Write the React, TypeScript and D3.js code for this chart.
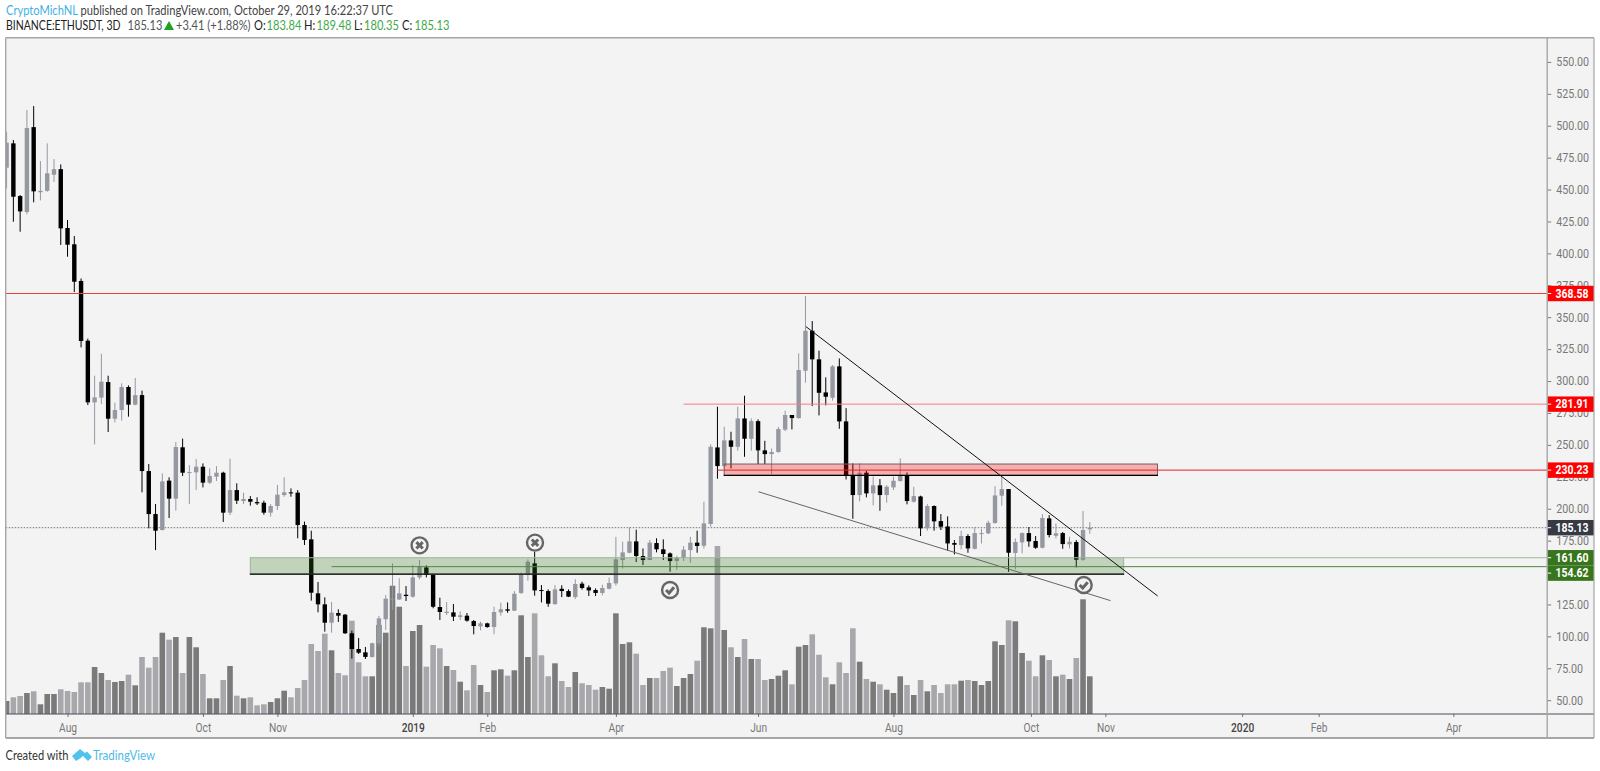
import { useEffect, useRef } from 'react'
import * as d3 from 'd3'

// ETHUSDT 3D candles
const opens = [
  467.1,486.2,444.9,432.4,498.9,447.9,449,461.6,466,419.9,
  407.1,378.4,331.6,283.3,287,299.2,270.5,277.3,295.3,281.5,
  289,229.5,195.8,183.3,222,207.9,248.1,227.9,228.5,232.9,
  220.4,225.1,228.2,196.9,214.6,206,207.6,205.2,204.7,196.9,
  202.1,210.7,212.8,212.6,187.2,176,133.7,125.1,110.7,118.3,
  117,102.4,90.1,87.5,83.9,94.6,113.4,129,128.9,132.6,
  131.1,146.2,154,148.3,123,118.3,118.8,115.2,116.2,112,
  107.8,110.2,107.3,118.8,121.2,120.1,134,148.3,157.2,136.3,
  135.5,125.3,137.3,135.5,130.8,141.3,138.4,136.3,134,137.3,
  141.5,159.8,165.5,174.4,162.9,159.8,173.1,168.2,165,159,
  161.4,167.6,173.4,171,188,248,233.4,253.5,248.5,270.7,
  254.8,268.6,245.7,242.8,244.4,261.9,273.4,271,308.1,339.4,
  317,291.1,286.9,311.5,268.4,225.6,210.7,228.2,212,218.3,
  210.7,216.7,221.7,225.8,205.5,209.6,184.6,202.1,190.3,186.1,
  173.1,171.5,178.6,168.6,180.4,180.7,188.8,210.2,215.4,165.3,
  173.6,180.9,174.7,169.4,192.4,178.8,180.9,172.1,173.9,160,
  183.84,
]
const highs = [
  495.3,488.8,445.7,512.3,515.4,472.3,486.2,473.9,469.7,426.1,
  413.6,380.4,333.2,304.2,321.4,304.2,283,298.2,296.6,302.4,
  292.5,235,203.7,227.7,224.6,252.2,254.9,234.2,238.9,235.5,
  231.6,233.4,229,239.2,219.9,212.6,209.9,208.9,206.3,203.7,
  218.6,224.6,215.9,214.6,189.9,182.8,142.6,130.6,126.9,121.2,
  117.5,104.5,98.7,91.7,95.1,116,132.4,157.2,145.5,139.4,
  155.9,159.8,155.6,148.8,130.3,126.9,125.3,119.6,118.3,112.8,
  111.5,110.7,123.2,126.4,126.6,135.5,149.9,160.3,166.3,140.2,
  136.8,140.2,140,136.8,144.7,142.8,140,137.6,140.5,146,
  178,174.2,185.4,183.6,168.9,175.5,176.8,176,165.8,163.2,
  170.8,178,182.8,205.5,250.4,279.9,264.2,260.3,279.9,288.5,
  270.7,270,253.2,247.2,264.2,276.8,273.4,321.7,366.6,347,
  323.8,302.9,312.5,317.7,278.8,235.5,235.5,229.8,225.1,223.2,
  218.5,225.1,239.4,228.4,217.2,210.2,203.6,202.6,195.8,194,
  175.4,182.8,180.1,185.4,184.3,190.6,217.7,225,215.4,176.7,
  181.4,185.6,178.6,195.8,195,188.5,181.7,178,175.4,198.2,
  189.48,
]
const lows = [
  450.9,424.8,417,430.6,440,441.5,448.3,455.9,406.6,397.4,
  369.7,326.4,281.2,250.4,282,260.1,267.6,269,272.1,281,
  212.8,184.6,167.6,183,192.7,198.5,225.6,203.7,214.6,216.7,
  219.3,221.7,189.6,195,203.7,203.7,202.4,202.9,195.3,193.8,
  199,209.4,209.4,176.8,171.6,128,118.8,103.7,102.9,111.3,
  101.9,82.6,86.2,82.3,83.3,92,105,120.6,128.5,127.7,
  130.3,144.7,146.2,122,112.8,116.7,112,112.8,111.5,101.6,
  104.7,106.8,101.6,116.2,118.5,119.8,133.2,143.6,131.9,126.6,
  123.2,124.6,130.8,130.8,129.2,136.6,131.6,131.6,132.1,136.8,
  139.7,153,165,158.2,155.9,159.8,165.8,159.8,150.7,152,
  159,157.7,165.5,168.7,185.9,223.5,231.6,231.6,245.4,240.7,
  245.4,235,235,227.1,243.9,260.8,262.1,270.5,298.7,280.4,
  273.1,280.9,284.6,262.6,222.9,192.1,205.7,208.9,202.6,198.4,
  204.7,214.6,221.1,203.4,204.7,178.6,182.8,182.8,183.3,167.1,
  164.2,168.1,165.5,168.1,172.8,180.1,188.2,202.3,150.6,152.5,
  165,170.2,168.6,168.9,177.5,176.7,168.6,168.9,154,159.2,
  180.35,
]
const closes = [
  486.7,444.4,432.9,498.2,448.6,449,462.7,466,419.6,406.8,
  377.8,331.4,283.3,287.2,299.5,270.5,277.3,295.3,281.5,289,
  229.5,195.8,182.8,221.4,207.9,248.3,228.2,228.7,232.9,220.4,
  225.6,228.2,196.9,214.6,206.3,207.6,205.5,204.2,196.9,202.1,
  211,212.8,212.3,187.2,175.5,134.2,125.1,110.7,118.6,116.2,
  102.4,90.1,87.2,83.9,94.6,114.1,129.5,129.6,133.7,131.6,
  146.2,154.6,148.1,123.2,119.1,119.3,115.4,116.5,112.3,108.1,
  110.2,107.3,119.1,121.2,120.1,133.4,148.8,158.5,136,135.5,
  125.6,136.8,135.5,131.1,141,137.9,136,134,137.9,141.8,
  160.3,165.8,174.4,162.9,159.8,173.4,168.2,164.5,159,161.6,
  167.9,173.4,170.8,188.5,248.5,233.4,253.5,248.5,270.7,254.8,
  268.6,245.7,242.8,244.4,262.4,273.4,271,308.6,339.4,317,
  290.8,287.7,311.5,268.4,226.1,210.7,228.2,212,218.3,210.7,
  217.2,221.9,225.8,206,209.9,184.6,202.1,190.1,185.9,172.8,
  171.8,178.6,168.9,180.9,180.9,189,210.4,215.4,165.5,173.9,
  180.9,174.4,169.4,192.7,179.4,180.7,172.3,174.1,160,183.3,
  185.13,
]
// volume in relative units (the scale has no labels in the picture)
const volumes = [
  13,16.7,18,21,22.7,9.7,20,20,24.7,23,
  22,31.7,31.7,47,41,34,32,33,39.3,28.7,
  57,46.3,57,81.3,74.3,77,41,77,66.7,40,
  15.7,15.7,34,48,18.3,15.7,16.7,8.7,9.7,12,
  15.7,23.3,16.7,26,34,70,63,80.3,63.7,41,
  38.7,93.3,51.7,37.7,37.7,89,81.3,128.3,107.3,48,
  83,89,47.3,69,65.7,48,44,32.3,23.7,49,
  29,22,43.7,44.7,38.3,43.7,98.7,57,100.7,58.7,
  37.7,50.7,33,27,42,30.7,29,24.3,27,25.3,
  100.7,70,71.7,60.3,29,36,36,43,46.3,28,
  36,40,53.3,86.7,85.7,168,84,66.7,57,75,
  55,55,34,35,38.3,43.7,29.7,67.3,69,79.7,
  59.3,36.7,29.7,51.7,41,85.7,52.3,35,32.3,29.7,
  24.3,21,37.7,29,19,34,22.7,29,21,29.7,
  29.7,33.3,34,33,29,33,72.7,69,93.7,92.7,
  61,53.3,37.7,58.7,54,37.7,39.3,35,56,114.7,
  37.7,
]

// 150.00 sits fully behind the green price tags in the picture, so it is left out
const priceTicks = [550,525,500,475,450,425,400,375,350,325,300,275,250,225,200,175,125,100,75,50]
const timeTickBars = [9,29,40,60,71,90,111,131,151.3,162.3,182.5,193.8,213.7]
const timeTickLabels = ['Aug','Oct','Nov','2019','Feb','Apr','Jun','Aug','Oct','Nov','2020','Feb','Apr']

const lastPrice = 185.13
const resistanceTop = 368.58
const resistanceMid = 281.91
const resistanceLow = 230.23
const supportTop = 161.6
const supportLow = 154.62

const redZone = { from: 106, to: 170, top: 235, bottom: 226.1 }
const greenZone = { from: 36, to: 165, top: 161.6, bottom: 148.7 }
const fallingLine = [[118.08, 342.6], [170.03, 131.6]]
const supportLine = [[111.05, 213.3], [163.06, 128]]
const crossBadges = [[61, 171.3], [78.05, 173.4]]
const checkBadges = [[98, 136.3], [159.1, 140.2]]

const priceTags = [
  { value: resistanceTop, fill: '#ff0000' },
  { value: resistanceMid, fill: '#ff0000' },
  { value: resistanceLow, fill: '#ff0000' },
  { value: lastPrice, fill: '#363a45' },
  { value: supportTop, fill: '#38761d' },
  { value: supportLow, fill: '#38761d' },
]

const headerLine2 = [
  { x: 127.5, text: '185.13', fill: '#555' },
  { x: 176, text: '+3.41 (+1.88%)', fill: '#555' },
  { x: 254, text: 'O:', fill: '#222' },
  { x: 266.5, text: '183.84', fill: '#3fa84a' },
  { x: 304, text: 'H:', fill: '#222' },
  { x: 316.5, text: '189.48', fill: '#3fa84a' },
  { x: 354, text: 'L:', fill: '#222' },
  { x: 364, text: '180.35', fill: '#3fa84a' },
  { x: 402, text: 'C:', fill: '#222' },
  { x: 414.5, text: '185.13', fill: '#3fa84a' },
]

const textFont = 'Lato, "Open Sans", sans-serif'
const axisFont = 'Roboto, sans-serif'

// The original text is narrower than any installed font, so condense it a bit
function squeeze(sel: any, ratio: number) {
  sel.each(function (this: SVGTextElement) {
    d3.select(this)
      .attr('textLength', this.getComputedTextLength() * ratio)
      .attr('lengthAdjust', 'spacingAndGlyphs')
  })
}

export default function App() {
  const svgRef = useRef<SVGSVGElement>(null)

  useEffect(() => {
    if (!svgRef.current) return
    const svg = d3.select(svgRef.current)
    svg.selectAll('*').remove()

    const paneLeft = 5.7
    const paneTop = 37.7
    const axisX = 1547.2
    const paneRight = 1594
    const timeY = 714
    const paneBottom = 738

    const x = d3.scaleLinear().domain([0, 160]).range([6.6, 1089.8])
    const y = d3.scaleLinear().domain([50, 550]).range([700.2, 61.9])
    const v = d3.scaleLinear().domain([0, 168]).range([timeY, 546])

    svg.append('rect').attr('width', 1600).attr('height', 771).attr('fill', '#fff')
    svg.append('rect')
      .attr('x', paneLeft).attr('y', paneTop)
      .attr('width', paneRight - paneLeft).attr('height', paneBottom - paneTop)
      .attr('fill', '#f3f3f3')

    svg.append('clipPath').attr('id', 'pane')
      .append('rect')
      .attr('x', paneLeft).attr('y', paneTop)
      .attr('width', axisX - paneLeft).attr('height', timeY - paneTop)
    const pane = svg.append('g').attr('clip-path', 'url(#pane)')

    const bars = d3.range(closes.length)
    const isUp = (i: number) => closes[i] >= opens[i]

    // Volume colours run opposite to the candles on this chart
    pane.selectAll('.vol')
      .data(bars)
      .enter().append('rect')
      .attr('class', 'vol')
      .attr('x', i => x(i) - 2.8)
      .attr('y', i => v(volumes[i]))
      .attr('width', 5.6)
      .attr('height', i => timeY - v(volumes[i]))
      .attr('fill', i => isUp(i) ? '#7a7a7a' : '#a7a7ac')

    // Last price line
    pane.append('line')
      .attr('x1', paneLeft).attr('x2', axisX)
      .attr('y1', y(lastPrice)).attr('y2', y(lastPrice))
      .attr('stroke', '#777').attr('stroke-dasharray', '1.5 1.5')

    pane.selectAll('.wick')
      .data(bars)
      .enter().append('line')
      .attr('class', 'wick')
      .attr('x1', i => x(i)).attr('x2', i => x(i))
      .attr('y1', i => y(highs[i])).attr('y2', i => y(lows[i]))
      .attr('stroke', i => isUp(i) ? '#9598a1' : '#000')
      .attr('stroke-width', 1)

    pane.selectAll('.body')
      .data(bars)
      .enter().append('rect')
      .attr('class', 'body')
      .attr('x', i => x(i) - 2.2)
      .attr('y', i => y(Math.max(opens[i], closes[i])))
      .attr('width', 4.4)
      .attr('height', i => Math.max(1, Math.abs(y(opens[i]) - y(closes[i]))))
      .attr('fill', i => isUp(i) ? '#9598a1' : '#000')

    // Zones
    const greenG = pane.append('g')
    greenG.append('rect')
      .attr('x', x(greenZone.from)).attr('y', y(greenZone.top))
      .attr('width', x(greenZone.to) - x(greenZone.from))
      .attr('height', y(greenZone.bottom) - y(greenZone.top))
      .attr('fill', 'rgba(56,118,29,0.26)')
      .attr('stroke', '#9fb39a').attr('stroke-width', 1)
    greenG.append('line')
      .attr('x1', x(greenZone.from) - 0.5).attr('x2', x(greenZone.to) + 0.5)
      .attr('y1', y(greenZone.bottom)).attr('y2', y(greenZone.bottom))
      .attr('stroke', '#000').attr('stroke-width', 1.2)

    const redG = pane.append('g')
    redG.append('rect')
      .attr('x', x(redZone.from)).attr('y', y(redZone.top))
      .attr('width', x(redZone.to) - x(redZone.from))
      .attr('height', y(redZone.bottom) - y(redZone.top))
      .attr('fill', 'rgba(255,0,0,0.28)')
      .attr('stroke', '#7a5c5c').attr('stroke-width', 1)
    redG.append('line')
      .attr('x1', x(redZone.from) - 0.5).attr('x2', x(redZone.to) + 0.5)
      .attr('y1', y(redZone.bottom)).attr('y2', y(redZone.bottom))
      .attr('stroke', '#000').attr('stroke-width', 1.2)

    // Horizontal levels
    const levels = [
      { from: 0, value: resistanceTop, color: '#e8413c' },
      { from: 100, value: resistanceMid, color: '#f77d7d' },
      { from: 105, value: resistanceLow, color: '#e8222a' },
      { from: 165, value: supportTop, color: '#a3b59f' },
      { from: 48, value: supportLow, color: '#4c8a3c' },
    ]
    pane.selectAll('.level')
      .data(levels)
      .enter().append('line')
      .attr('class', 'level')
      .attr('x1', d => d.from === 0 ? paneLeft : x(d.from)).attr('x2', axisX)
      .attr('y1', d => y(d.value)).attr('y2', d => y(d.value))
      .attr('stroke', d => d.color).attr('stroke-width', 1)

    // Trend lines
    const trend = d3.line<number[]>().x(d => x(d[0])).y(d => y(d[1]))
    pane.append('path').attr('d', trend(fallingLine)).attr('fill', 'none')
      .attr('stroke', '#111').attr('stroke-width', 1)
    pane.append('path').attr('d', trend(supportLine)).attr('fill', 'none')
      .attr('stroke', '#666').attr('stroke-width', 1)

    // Round markers
    const badge = (d: number[]) => {
      const g = pane.append('g').attr('transform', `translate(${x(d[0])},${y(d[1])})`)
      g.append('circle').attr('r', 8).attr('fill', '#f3f3f3')
        .attr('stroke', '#666').attr('stroke-width', 2.4)
      return g
    }
    crossBadges.forEach(d => {
      badge(d).append('path').attr('d', 'M-3.2,-3.2L3.2,3.2M3.2,-3.2L-3.2,3.2')
        .attr('stroke', '#666').attr('stroke-width', 3).attr('fill', 'none')
    })
    checkBadges.forEach(d => {
      badge(d).append('path').attr('d', 'M-4,0L-1,3L4,-2.8')
        .attr('stroke', '#666').attr('stroke-width', 3).attr('fill', 'none')
    })

    // Time axis
    const timeAxis = d3.axisBottom(x)
      .tickValues(timeTickBars)
      .tickSize(3)
      .tickPadding(6)
      .tickFormat((_, i) => timeTickLabels[i])
    const tg = svg.append('g').attr('transform', `translate(0,${timeY})`).call(timeAxis)
    tg.select('.domain').remove()
    tg.selectAll('.tick line').attr('stroke', '#777')
    const timeTexts = tg.selectAll('.tick text')
      .attr('fill', (_, i) => timeTickLabels[i] === '2020' || timeTickLabels[i] === '2019' ? '#444' : '#777')
      .style('font-family', axisFont)
      .style('font-size', '12px')
      .style('font-weight', (_, i) => timeTickLabels[i] === '2020' || timeTickLabels[i] === '2019' ? '500' : '400')
    squeeze(timeTexts, 0.85)
    svg.append('line')
      .attr('x1', paneLeft).attr('x2', paneRight)
      .attr('y1', timeY).attr('y2', timeY)
      .attr('stroke', '#4a4e5e').attr('stroke-width', 1)

    // Price axis
    const priceAxis = d3.axisRight(y)
      .tickValues(priceTicks)
      .tickSize(4)
      .tickPadding(5)
      .tickFormat(d3.format('.2f'))
    const pg = svg.append('g').attr('transform', `translate(${axisX},0)`).call(priceAxis)
    pg.select('.domain').remove()
    pg.selectAll('.tick line').attr('stroke', '#777')
    const priceTexts = pg.selectAll('.tick text')
      .attr('fill', '#777')
      .style('font-family', axisFont)
      .style('font-size', '12px')
    squeeze(priceTexts, 0.89)

    // Price tags sit over the axis labels; a tag that would hit the one above is pushed down
    const tagH = 15.4
    let prevTag = -Infinity
    const tagCentres = priceTags.map(d => {
      prevTag = Math.max(y(d.value), prevTag + tagH)
      return prevTag
    })
    const tags = svg.selectAll('.tag').data(priceTags).enter().append('g').attr('class', 'tag')
    tags.append('rect')
      .attr('x', axisX).attr('y', (_, i) => tagCentres[i] - tagH / 2)
      .attr('width', paneRight - axisX).attr('height', tagH)
      .attr('fill', d => d.fill)
    tags.append('line')
      .attr('x1', axisX).attr('x2', axisX + 4)
      .attr('y1', (_, i) => tagCentres[i]).attr('y2', (_, i) => tagCentres[i])
      .attr('stroke', '#fff')
    const tagTexts = tags.append('text')
      .attr('x', axisX + 8.3).attr('y', (_, i) => tagCentres[i] + 4.2)
      .attr('fill', '#fff')
      .style('font-family', axisFont)
      .style('font-size', '12px')
      .style('font-weight', '700')
      .text(d => d3.format('.2f')(d.value))
    squeeze(tagTexts, 0.87)

    // Pane borders
    const border = '#a6a6a6'
    const frame: number[][] = [
      [paneLeft, paneTop, paneRight, paneTop, 1.4],
      [paneLeft, paneTop, paneLeft, paneBottom, 1.4],
      [paneLeft, paneBottom, paneRight, paneBottom, 1.8],
      [paneRight, paneTop, paneRight, paneBottom, 1.2],
      [axisX, paneTop, axisX, paneBottom, 1.4],
    ]
    frame.forEach(f => {
      svg.append('line')
        .attr('x1', f[0]).attr('y1', f[1]).attr('x2', f[2]).attr('y2', f[3])
        .attr('stroke', border).attr('stroke-width', f[4])
    })

    // Header
    const head = svg.append('text').attr('x', 6).attr('y', 15)
      .style('font-family', textFont).style('font-size', '12.5px').attr('fill', '#444')
    head.append('tspan').attr('fill', '#3fb1e8').text('CryptoMichNL')
    head.append('tspan').text(' published on TradingView.com, October 29, 2019 16:22:37 UTC')
    squeeze(head, 0.89)

    const symbol = svg.append('text').attr('x', 6).attr('y', 30).attr('fill', '#222')
      .style('font-family', textFont).style('font-size', '12.5px')
      .text('BINANCE:ETHUSDT, 3D')
    squeeze(symbol, 0.84)
    const head2 = svg.selectAll('.head2').data(headerLine2).enter().append('text')
      .attr('class', 'head2')
      .attr('x', d => d.x).attr('y', 30)
      .attr('fill', d => d.fill)
      .style('font-family', textFont).style('font-size', '12.5px')
      .text(d => d.text)
    squeeze(head2, 0.89)
    svg.append('path').attr('d', 'M164,30L169,21L174,30Z').attr('fill', '#1aa31f')

    // Footer
    const created = svg.append('text').attr('x', 5.5).attr('y', 760)
      .style('font-family', textFont).style('font-size', '12.5px').attr('fill', '#333')
      .text('Created with')
    squeeze(created, 0.89)
    svg.append('path')
      .attr('d', 'M72,756L80,749L85,753L87,751.5L92,757L88,761L83,756L80,758.5L76,761Z')
      .attr('fill', '#4fc3ec')
    const brand = svg.append('text').attr('x', 93).attr('y', 760)
      .style('font-family', textFont).style('font-size', '12.5px').attr('fill', '#4fbbe8')
      .text('TradingView')
    squeeze(brand, 0.92)
  }, [])

  return (
    <svg
      ref={svgRef}
      width={1600}
      height={771}
      style={{ position: 'absolute', left: 0, top: 0 }}
    />
  )
}
